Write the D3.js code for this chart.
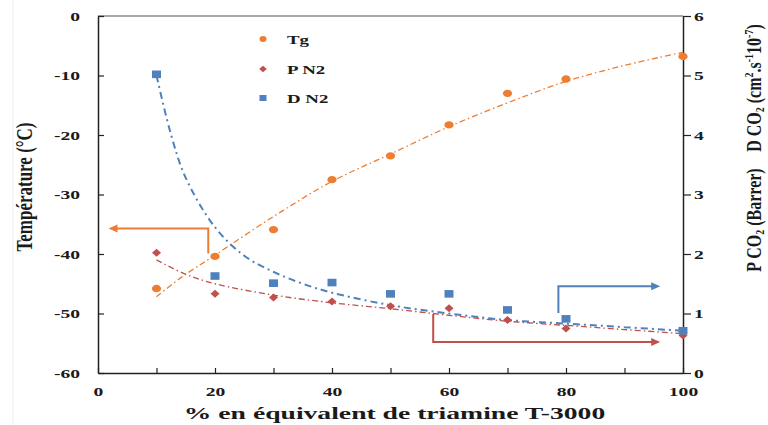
<!DOCTYPE html>
<html>
<head>
<meta charset="utf-8">
<script src="https://cdn.jsdelivr.net/npm/d3@7"></script>
<style>
  html, body { margin: 0; padding: 0; background: #fff; }
  svg { display: block; }
  text { font-family: "Liberation Serif", "Times New Roman", serif; fill: #1a1a1a; }
</style>
</head>
<body>
<svg id="chart" width="768" height="425"></svg>
<script>
// Amine content (% equivalent of triamine T-3000)
const contents = [10, 20, 30, 40, 50, 60, 70, 80, 100];
// Glass transition temperature, °C (left axis)
const tgValues = [-45.8, -40.4, -35.9, -27.5, -23.5, -18.3, -13.0, -10.6, -6.8];
// N2 permeability, Barrer (right axis)
const pN2Values = [2.02, 1.33, 1.27, 1.20, 1.12, 1.09, 0.89, 0.75, 0.63];
// N2 diffusivity, cm².s⁻¹ 10⁻⁷ (right axis)
const dN2Values = [5.02, 1.63, 1.51, 1.52, 1.33, 1.33, 1.06, 0.91, 0.71];

// Trend curves: [content, value]
const tgTrend = [[10, -47.2], [14, -44.1], [20, -40.2], [30, -33.7], [40, -27.8], [50, -23.2], [60, -18.6], [70, -14.6], [80, -11.0], [90, -8.3], [100, -6.1]];
const pTrend = [[10, 1.90], [15, 1.66], [20, 1.50], [30, 1.31], [40, 1.18], [50, 1.08], [60, 0.97], [70, 0.87], [80, 0.80], [90, 0.73], [100, 0.66]];
const dTrend = [[10, 5.0], [12.5, 4.0], [15, 3.28], [20, 2.45], [25, 1.97], [30, 1.70], [35, 1.50], [40, 1.35], [50, 1.14], [60, 1.0], [70, 0.89], [80, 0.83], [90, 0.77], [100, 0.71]];

// Axis ticks
const leftTicks = [0, -10, -20, -30, -40, -50, -60];
const rightTicks = [0, 1, 2, 3, 4, 5, 6];
const bottomTicks = [0, 10, 20, 30, 40, 50, 60, 70, 80, 90, 100];
const legendLabels = ["Tg", "P N2", "D N2"];

const colors = { tg: "#ED7D31", p: "#C0504D", d: "#4F81BD" };
const SX = 1.45; // horizontal text stretch

const svg = d3.select("#chart");
const x = d3.scaleLinear().domain([0, 100]).range([98, 683]);
const yL = d3.scaleLinear().domain([-60, 0]).range([373, 16]);
const yR = d3.scaleLinear().domain([0, 6]).range([373, 16]);

// faint frame line at far left
svg.append("line").attr("x1", 13).attr("x2", 13).attr("y1", 0).attr("y2", 425)
  .attr("stroke", "#efefef").attr("stroke-width", 1);

// top border
svg.append("line").attr("x1", x(0)).attr("x2", x(100)).attr("y1", yL(0)).attr("y2", yL(0))
  .attr("stroke", "#8a8a8a").attr("stroke-width", 1.5);

function stretchText(sel) {
  sel.each(function () {
    const t = d3.select(this);
    const tx = +t.attr("x") || 0;
    const ty = +t.attr("y") || 0;
    t.attr("x", 0).attr("y", 0)
      .attr("transform", `translate(${tx},${ty}) scale(${SX},1)`);
  });
}

function styleAxis(g) {
  g.select(".domain").attr("stroke", "#222").attr("stroke-width", 1.5);
  g.selectAll(".tick line").attr("stroke", "#222").attr("stroke-width", 1.2);
  g.selectAll("text").attr("font-size", 13.5).attr("font-weight", "bold")
    .attr("font-family", "'Liberation Serif', serif").attr("fill", "#1a1a1a");
}

const plainFormat = d => String(d);

// left axis
const gL = svg.append("g").attr("transform", `translate(${x(0)},0)`)
  .call(d3.axisLeft(yL).tickValues(leftTicks).tickFormat(plainFormat)
    .tickSizeInner(-6).tickSizeOuter(0).tickPadding(18));
styleAxis(gL);
gL.selectAll("text").call(stretchText);

// right axis
const gR = svg.append("g").attr("transform", `translate(${x(100)},0)`)
  .call(d3.axisRight(yR).tickValues(rightTicks).tickFormat(plainFormat)
    .tickSizeInner(8).tickSizeOuter(0).tickPadding(3));
styleAxis(gR);
gR.selectAll("text").call(stretchText);

// bottom axis: ticks every 10, labels every 20
const gB = svg.append("g").attr("transform", `translate(0,${yL(-60)})`)
  .call(d3.axisBottom(x).tickValues(bottomTicks).tickSizeInner(-5).tickSizeOuter(0).tickPadding(13)
    .tickFormat(d => d % 20 === 0 ? String(d) : ""));
styleAxis(gB);
gB.selectAll("text").filter(function () { return this.textContent === ""; }).remove();
gB.selectAll("text").call(stretchText);

// trend curves
const lineL = d3.line().x(d => x(d[0])).y(d => yL(d[1])).curve(d3.curveCatmullRom);
const lineR = d3.line().x(d => x(d[0])).y(d => yR(d[1])).curve(d3.curveCatmullRom);
svg.append("path").datum(tgTrend).attr("d", lineL).attr("fill", "none")
  .attr("stroke", colors.tg).attr("stroke-width", 1.3).attr("stroke-dasharray", "6,3,1.5,3");
svg.append("path").datum(pTrend).attr("d", lineR).attr("fill", "none")
  .attr("stroke", colors.p).attr("stroke-width", 1.3).attr("stroke-dasharray", "6,3,1.5,3");
svg.append("path").datum(dTrend).attr("d", lineR).attr("fill", "none")
  .attr("stroke", colors.d).attr("stroke-width", 2).attr("stroke-dasharray", "7,4,2,4");

// annotation arrows (points in data units on the given axis)
const arrows = [
  { color: colors.tg, axis: "L", pts: [[18.85, -39.9], [18.85, -35.7], [1.8, -35.7]] },
  { color: colors.p, axis: "R", pts: [[57.3, 0.99], [57.3, 0.52], [96.1, 0.52]] },
  { color: colors.d, axis: "R", pts: [[78.7, 1.01], [78.7, 1.46], [96.1, 1.46]] }
];
arrows.forEach(a => {
  const ys = a.axis === "L" ? yL : yR;
  const p = a.pts.map(d => [x(d[0]), ys(d[1])]);
  const [px, py] = p[1];
  const [ex, ey] = p[2];
  const dir = Math.sign(ex - px);
  const headLen = 9, headHalf = 4;
  svg.append("path")
    .attr("d", `M${p[0][0]},${p[0][1]}L${px},${py}L${ex - dir * headLen * 0.6},${ey}`)
    .attr("fill", "none").attr("stroke", a.color).attr("stroke-width", 2);
  svg.append("path")
    .attr("d", `M${ex},${ey}L${ex - dir * headLen},${ey - headHalf}L${ex - dir * headLen},${ey + headHalf}Z`)
    .attr("fill", a.color);
});

// markers
const symbols = {
  tg: (g, cx, cy) => g.append("ellipse").attr("cx", cx).attr("cy", cy).attr("rx", 4.6).attr("ry", 3.7).attr("fill", colors.tg),
  p: (g, cx, cy) => g.append("path").attr("d", `M${cx},${cy - 4}L${cx + 4.5},${cy}L${cx},${cy + 4}L${cx - 4.5},${cy}Z`).attr("fill", colors.p),
  d: (g, cx, cy) => g.append("rect").attr("x", cx - 4.5).attr("y", cy - 3.8).attr("width", 9).attr("height", 7.6).attr("fill", colors.d)
};
const gm = svg.append("g");
contents.forEach((c, i) => {
  symbols.p(gm, x(c), yR(pN2Values[i]));
  symbols.d(gm, x(c), yR(dN2Values[i]));
  symbols.tg(gm, x(c), yL(tgValues[i]));
});

// legend
const legKeys = ["tg", "p", "d"];
const legY = [39, 69, 98];
legKeys.forEach((k, i) => {
  const lg = svg.append("g");
  if (k === "tg") lg.append("ellipse").attr("cx", 263).attr("cy", legY[i]).attr("rx", 3.5).attr("ry", 3).attr("fill", colors.tg);
  if (k === "p") lg.append("path").attr("d", `M263,${legY[i] - 3.2}L266.8,${legY[i]}L263,${legY[i] + 3.2}L259.2,${legY[i]}Z`).attr("fill", colors.p);
  if (k === "d") lg.append("rect").attr("x", 259.5).attr("y", legY[i] - 3).attr("width", 7).attr("height", 6).attr("fill", colors.d);
  lg.append("text").attr("transform", `translate(287,${legY[i] + 4.5}) scale(${SX},1)`)
    .attr("font-size", 13).attr("font-weight", "bold").text(legendLabels[i]);
});

// axis titles
svg.append("text")
  .attr("transform", `translate(${(x(0) + x(100)) / 2 + 4},419) scale(1.58,1)`)
  .attr("text-anchor", "middle").attr("font-size", 17.5).attr("font-weight", "bold")
  .text("% en équivalent de triamine T-3000");

svg.append("text")
  .attr("transform", `translate(32,187) scale(1.35,1) rotate(-90)`)
  .attr("text-anchor", "middle").attr("font-size", 17).attr("font-weight", "bold")
  .text("Température (°C)");

const tD = svg.append("text")
  .attr("transform", `translate(761,88) scale(1.35,1) rotate(-90)`)
  .attr("text-anchor", "middle").attr("font-size", 16).attr("font-weight", "bold");
tD.append("tspan").text("D CO");
tD.append("tspan").attr("baseline-shift", "-25%").attr("font-size", 10).text("2");
tD.append("tspan").text(" (cm");
tD.append("tspan").attr("baseline-shift", "super").attr("font-size", 10).text("2");
tD.append("tspan").text(".s");
tD.append("tspan").attr("baseline-shift", "super").attr("font-size", 10).text("-1");
tD.append("tspan").text("10");
tD.append("tspan").attr("baseline-shift", "super").attr("font-size", 10).text("-7");
tD.append("tspan").text(")");

const tP = svg.append("text")
  .attr("transform", `translate(761,220) scale(1.35,1) rotate(-90)`)
  .attr("text-anchor", "middle").attr("font-size", 16).attr("font-weight", "bold");
tP.append("tspan").text("P CO");
tP.append("tspan").attr("baseline-shift", "-25%").attr("font-size", 10).text("2");
tP.append("tspan").text(" (Barrer)");
</script>
</body>
</html>
